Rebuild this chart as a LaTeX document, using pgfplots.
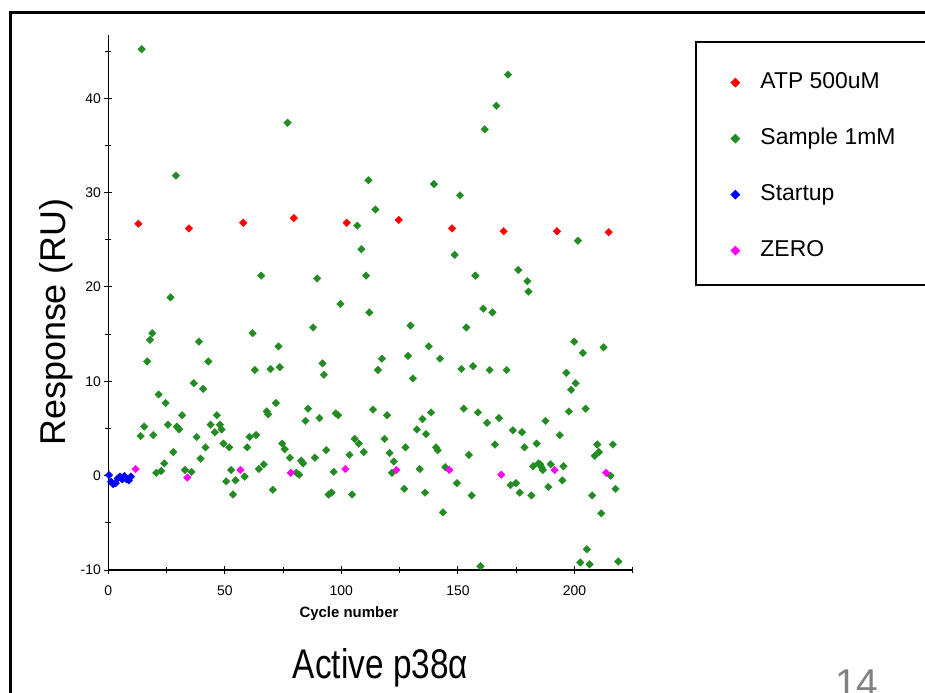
\documentclass[border=0pt]{standalone}
\usepackage{fontspec}
\setmainfont{Liberation Sans}
\usepackage{pgfplots}
\pgfplotsset{compat=1.18}
\definecolor{cred}{RGB}{255,0,0}
\definecolor{cgreen}{RGB}{34,139,34}
\definecolor{cblue}{RGB}{0,0,255}
\definecolor{cmag}{RGB}{255,0,255}
\definecolor{cgray}{RGB}{128,128,128}
\pgfplotsset{mk/.style={only marks, mark=square*, mark size=2.7bp,
  mark options={rotate=45, draw=#1, fill=#1, line width=0.3bp}}}
\begin{document}
\begin{tikzpicture}
% slide frame
\draw[line width=3bp] (10bp,-700bp) -- (10bp,-12bp) -- (940bp,-12bp);
% legend frame
\draw[line width=1.6bp] (940bp,-42bp) -- (696bp,-42bp) -- (696bp,-285bp) -- (940bp,-285bp);
\begin{axis}[
  at={(108.3bp,-570bp)}, anchor=south west,
  scale only axis, width=524.4bp, height=535bp,
  xmin=0, xmax=225, ymin=-10, ymax=46.7,
  axis x line*=bottom, axis y line*=left,
  axis line style={-, line width=1.4bp, black},
  clip=false,
  xtick={0,50,100,150,200}, minor xtick={25,75,125,175,225},
  ytick={-10,0,10,20,30,40}, minor ytick={-5,5,15,25,35,45},
  tick align=center, major tick length=8bp, minor tick length=6bp,
  tick style={black, line width=1bp},
  /pgf/number format/assume math mode=true,
  ticklabel style={font=\fontsize{14}{16}\selectfont},
  xticklabel style={yshift=-8bp},
  yticklabel style={xshift=0bp},
  xlabel={\textbf{Cycle number}},
  xlabel style={at={(axis description cs:0.459,0)}, anchor=center, yshift=-44bp, font=\fontsize{15}{17}\selectfont},
  ylabel={Response (RU)},
  ylabel style={at={(axis description cs:0,0.4636)}, anchor=base, yshift=42.6bp, font=\fontsize{36}{40}\selectfont},
  legend style={at={(axis description cs:1.1864,0.9310)}, anchor=north west,
    draw=none, fill=none, inner sep=0pt, row sep=35bp, column sep=20.5bp,
    font=\fontsize{23}{25}\selectfont,
    nodes={inner sep=0pt, text height=16bp, text depth=5bp}},
  legend image post style={mark size=3.3bp},
  legend cell align=left,
]
\addplot[mk=cred] coordinates {
(12.9,26.7) (34.6,26.2) (57.9,26.8) (79.6,27.3) (102.3,26.8)
(124.6,27.1) (147.5,26.2) (169.6,25.9) (192.5,25.9) (214.7,25.8)
};
\addlegendentry{ATP 500uM}
\addplot[mk=cgreen] coordinates {
(14.3,45.2) (29.0,31.8) (76.9,37.4) (111.6,31.3) (106.8,26.5) (108.6,24.0)
(110.6,21.2) (65.6,21.2) (89.6,20.9) (26.7,18.9) (99.6,18.2) (112.0,17.3)
(87.9,15.7) (171.5,42.5) (166.5,39.2) (161.5,36.7) (139.7,30.9) (150.9,29.7)
(114.6,28.2) (201.5,24.9) (148.6,23.4) (157.5,21.2) (175.9,21.8) (179.8,20.6)
(180.3,19.5) (129.7,15.9) (160.9,17.7) (164.8,17.3) (153.6,15.7)
(18.9,15.1) (17.9,14.4) (16.7,12.1) (13.9,4.2) (15.4,5.2) (19.3,4.3)
(21.6,8.6) (24.6,7.7) (25.6,5.4) (27.9,2.5) (20.6,0.3) (22.7,0.5)
(24.0,1.3) (29.4,5.2) (30.4,4.9) (31.7,6.4) (32.9,0.6) (35.7,0.4)
(36.7,9.8) (38.9,14.2) (40.7,9.2) (37.9,4.1) (39.6,1.8) (41.7,3.0)
(42.9,12.1) (43.9,5.4) (45.7,4.6) (46.6,6.4) (47.9,5.4) (48.6,4.9)
(49.4,3.4) (50.6,-0.6) (51.9,3.0) (52.7,0.6) (53.5,-2.0) (54.6,-0.5)
(58.5,-0.1) (59.6,3.0) (60.6,4.1) (63.4,4.3) (61.9,15.1) (62.9,11.2)
(64.6,0.7) (66.7,1.2) (68.0,6.8) (68.6,6.5) (69.6,11.3) (70.6,-1.5)
(71.9,7.7) (73.0,13.7) (73.6,11.5) (74.6,3.4) (75.7,2.8) (77.9,1.9)
(80.7,0.3) (81.9,0.1) (82.7,1.6) (83.6,1.3) (84.6,5.8) (85.7,7.1)
(88.6,1.9) (90.6,6.1) (91.9,11.9) (92.5,10.7) (93.5,2.7) (94.5,-2.0)
(95.8,-1.8) (96.7,0.4) (97.6,6.6) (98.6,6.4) (104.6,-2.0) (103.5,2.2)
(105.7,3.9) (107.5,3.4) (109.6,2.5)
(113.6,7.0) (115.7,11.2) (117.4,12.4) (118.5,3.9) (119.6,6.4) (120.7,2.4)
(122.5,1.5) (121.7,0.3) (127.0,-1.4) (127.5,3.0) (128.6,12.7) (130.7,10.3)
(132.4,4.9) (133.6,0.7) (134.8,6.0) (135.9,-1.8) (136.3,4.4) (137.5,13.7)
(138.5,6.7) (140.6,3.0) (141.3,2.7) (142.3,12.4) (143.6,-3.9) (144.6,0.9)
(149.6,-0.8) (151.5,11.3) (152.5,7.1) (154.7,2.2) (155.9,-2.1) (156.5,11.6)
(158.6,6.7) (159.7,-9.6) (162.5,5.6) (163.6,11.2) (165.9,3.3) (167.6,6.1)
(170.9,11.2) (172.6,-1.0) (173.6,4.8) (174.9,-0.8) (176.5,-1.8) (177.5,4.6)
(178.6,3.0) (181.5,-2.1) (182.3,1.0) (183.8,3.4) (184.6,1.3) (185.3,1.2)
(185.9,0.9) (186.4,0.6) (187.6,5.8) (188.8,-1.2) (189.8,1.2) (193.7,4.3)
(194.8,-0.5) (195.3,1.0) (196.5,10.9) (197.6,6.8) (198.6,9.1) (199.9,14.2)
(200.5,9.8) (202.5,-9.2) (203.6,13.0) (204.8,7.1) (205.3,-7.8) (206.5,-9.4)
(207.6,-2.1) (208.7,2.1) (209.8,3.3) (210.5,2.5) (211.5,-4.0) (212.5,13.6)
(215.5,0.0) (216.5,3.3) (217.6,-1.4) (218.8,-9.1)
};
\addlegendentry{Sample 1mM}
\addplot[mk=cblue] coordinates {
(0.3,0.05) (1.2,-0.65) (2.1,-0.9) (3.2,-0.8) (4.0,-0.3) (5.0,-0.1)
(6.0,-0.4) (6.9,-0.05) (7.9,-0.4) (8.9,-0.5) (9.7,-0.1)
};
\addlegendentry{Startup}
\addplot[mk=cmag] coordinates {
(11.7,0.7) (33.9,-0.2) (56.7,0.6) (78.3,0.3) (101.7,0.7)
(123.6,0.6) (146.3,0.6) (168.6,0.1) (191.5,0.6) (213.6,0.3)
};
\addlegendentry{ZERO}
\end{axis}
\node[anchor=base, inner sep=0pt] at (380.5bp,-678bp) {\resizebox{175bp}{30bp}{Active p38α}};
\node[anchor=base west, text=cgray, font=\fontsize{39}{40}\selectfont, inner sep=0pt] at (835bp,-696bp) {14};
\pgfresetboundingbox
\useasboundingbox (0,0) rectangle (925bp,-693bp);
\end{tikzpicture}
\end{document}
